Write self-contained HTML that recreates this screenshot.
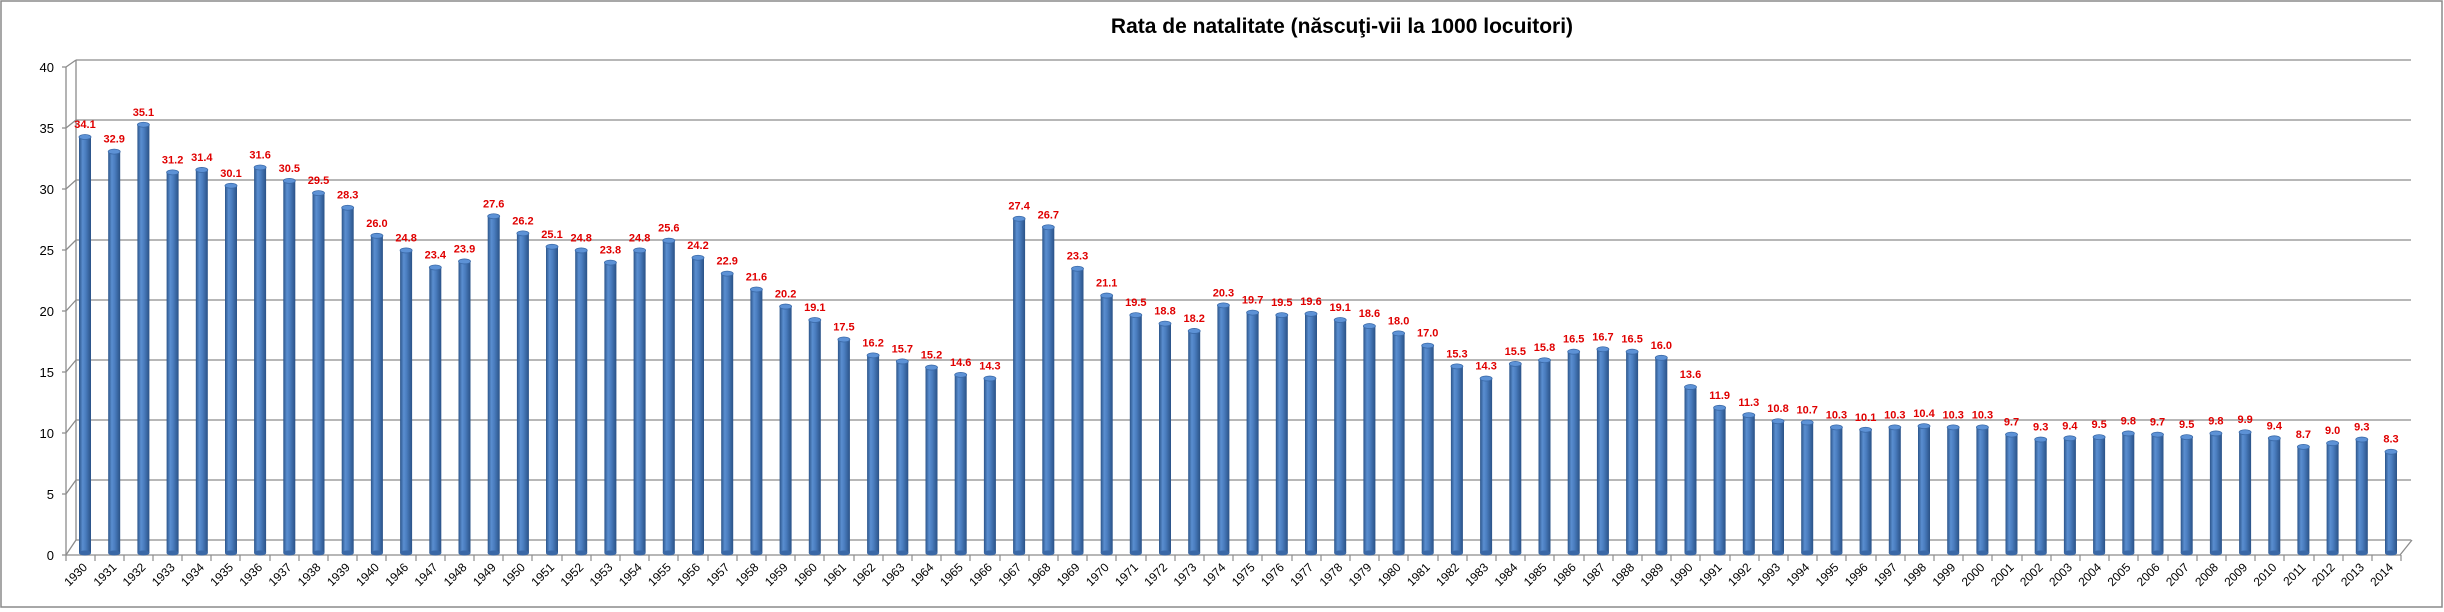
<!DOCTYPE html>
<html><head><meta charset="utf-8"><style>
html,body{margin:0;padding:0;background:#fff}
svg{display:block}
.c{transform:scaleY(calc(var(--v) * 12.2))}
.t{transform:translateY(calc(var(--v) * -12.2px))}
.lb{font:bold 11px "Liberation Sans",sans-serif;fill:#e00000;text-anchor:middle}
.yr{font:12px "Liberation Sans",sans-serif;fill:#000;text-anchor:end}
.ax{font:13px "Liberation Sans",sans-serif;fill:#000;text-anchor:end}
</style></head><body>
<svg width="2444" height="612" viewBox="0 0 2444 612" xmlns="http://www.w3.org/2000/svg">
<defs>
<linearGradient id="g" x1="0" x2="1" y1="0" y2="0">
<stop offset="0" stop-color="#2c558a"/><stop offset="0.3" stop-color="#5a8ed0"/><stop offset="0.55" stop-color="#4a7dbf"/><stop offset="1" stop-color="#2a5287"/>
</linearGradient>
<g id="bar"><rect class="c" x="-6" y="-1" width="12" height="1" fill="url(#g)"/><ellipse cx="0" cy="0" rx="6" ry="2.5" fill="#3a68a6"/></g>
</defs>
<rect x="1" y="1" width="2441" height="606" fill="#fff" stroke="#8a8a8a" stroke-width="1.5"/>
<text x="1342" y="33" style="font:bold 21px 'Liberation Sans',sans-serif;text-anchor:middle">Rata de natalitate (născuţi-vii la 1000 locuitori)</text>
<g stroke="#8c8c8c" stroke-width="1.3" fill="none">
<path d="M76 60H2411M76 120H2411M76 180H2411M76 240H2411M76 300H2411M76 360H2411M76 420H2411M76 480H2411"/>
<path d="M76 60V540M66 67V555M76 540H2411M66 555H2400L2412 540"/>
<path d="M62 67H66L76 60M62 128H66L76 120M62 189H66L76 180M62 250H66L76 240M62 311H66L76 300M62 372H66L76 360M62 433H66L76 420M62 494H66L76 480M62 555H66L76 540"/>
</g>
<g class="ax">
<text x="54" y="72">40</text><text x="54" y="133">35</text><text x="54" y="194">30</text><text x="54" y="255">25</text><text x="54" y="316">20</text><text x="54" y="377">15</text><text x="54" y="438">10</text><text x="54" y="499">5</text><text x="54" y="560">0</text>
</g>
<g stroke="#8c8c8c" stroke-width="1.2">
<path d="M95 555v6M124 555v6M153 555v6M182 555v6M211 555v6M240 555v6M270 555v6M299 555v6M328 555v6M357 555v6M386 555v6M416 555v6M445 555v6M474 555v6M503 555v6M532 555v6M562 555v6M591 555v6M620 555v6M649 555v6M678 555v6M708 555v6M737 555v6M766 555v6M795 555v6M824 555v6M854 555v6M883 555v6M912 555v6M941 555v6M970 555v6M1000 555v6M1029 555v6M1058 555v6M1087 555v6M1116 555v6M1146 555v6M1175 555v6M1204 555v6M1233 555v6M1262 555v6M1292 555v6M1321 555v6M1350 555v6M1379 555v6M1408 555v6M1438 555v6M1467 555v6M1496 555v6M1525 555v6M1554 555v6M1584 555v6M1613 555v6M1642 555v6M1671 555v6M1700 555v6M1730 555v6M1759 555v6M1788 555v6M1817 555v6M1846 555v6M1876 555v6M1905 555v6M1934 555v6M1963 555v6M1992 555v6M2022 555v6M2051 555v6M2080 555v6M2109 555v6M2138 555v6M2168 555v6M2197 555v6M2226 555v6M2255 555v6M2284 555v6M2314 555v6M2343 555v6M2372 555v6M2401 555v6M66 555v6"/>
</g>
<g id="bars">
<g transform="translate(85,553)" style="--v:34.1"><use href="#bar"/><g class="t"><ellipse rx="6" ry="2.5" fill="#5d92d6" stroke="#3b6aa8" stroke-width="0.8"/><text class="lb" y="-9">34.1</text></g><text class="yr" x="3" y="15" transform="rotate(-45 3 15)">1930</text></g>
<g transform="translate(114.2,553)" style="--v:32.9"><use href="#bar"/><g class="t"><ellipse rx="6" ry="2.5" fill="#5d92d6" stroke="#3b6aa8" stroke-width="0.8"/><text class="lb" y="-9">32.9</text></g><text class="yr" x="3" y="15" transform="rotate(-45 3 15)">1931</text></g>
<g transform="translate(143.4,553)" style="--v:35.1"><use href="#bar"/><g class="t"><ellipse rx="6" ry="2.5" fill="#5d92d6" stroke="#3b6aa8" stroke-width="0.8"/><text class="lb" y="-9">35.1</text></g><text class="yr" x="3" y="15" transform="rotate(-45 3 15)">1932</text></g>
<g transform="translate(172.6,553)" style="--v:31.2"><use href="#bar"/><g class="t"><ellipse rx="6" ry="2.5" fill="#5d92d6" stroke="#3b6aa8" stroke-width="0.8"/><text class="lb" y="-9">31.2</text></g><text class="yr" x="3" y="15" transform="rotate(-45 3 15)">1933</text></g>
<g transform="translate(201.8,553)" style="--v:31.4"><use href="#bar"/><g class="t"><ellipse rx="6" ry="2.5" fill="#5d92d6" stroke="#3b6aa8" stroke-width="0.8"/><text class="lb" y="-9">31.4</text></g><text class="yr" x="3" y="15" transform="rotate(-45 3 15)">1934</text></g>
<g transform="translate(231,553)" style="--v:30.1"><use href="#bar"/><g class="t"><ellipse rx="6" ry="2.5" fill="#5d92d6" stroke="#3b6aa8" stroke-width="0.8"/><text class="lb" y="-9">30.1</text></g><text class="yr" x="3" y="15" transform="rotate(-45 3 15)">1935</text></g>
<g transform="translate(260.1,553)" style="--v:31.6"><use href="#bar"/><g class="t"><ellipse rx="6" ry="2.5" fill="#5d92d6" stroke="#3b6aa8" stroke-width="0.8"/><text class="lb" y="-9">31.6</text></g><text class="yr" x="3" y="15" transform="rotate(-45 3 15)">1936</text></g>
<g transform="translate(289.3,553)" style="--v:30.5"><use href="#bar"/><g class="t"><ellipse rx="6" ry="2.5" fill="#5d92d6" stroke="#3b6aa8" stroke-width="0.8"/><text class="lb" y="-9">30.5</text></g><text class="yr" x="3" y="15" transform="rotate(-45 3 15)">1937</text></g>
<g transform="translate(318.5,553)" style="--v:29.5"><use href="#bar"/><g class="t"><ellipse rx="6" ry="2.5" fill="#5d92d6" stroke="#3b6aa8" stroke-width="0.8"/><text class="lb" y="-9">29.5</text></g><text class="yr" x="3" y="15" transform="rotate(-45 3 15)">1938</text></g>
<g transform="translate(347.7,553)" style="--v:28.3"><use href="#bar"/><g class="t"><ellipse rx="6" ry="2.5" fill="#5d92d6" stroke="#3b6aa8" stroke-width="0.8"/><text class="lb" y="-9">28.3</text></g><text class="yr" x="3" y="15" transform="rotate(-45 3 15)">1939</text></g>
<g transform="translate(376.9,553)" style="--v:26.0"><use href="#bar"/><g class="t"><ellipse rx="6" ry="2.5" fill="#5d92d6" stroke="#3b6aa8" stroke-width="0.8"/><text class="lb" y="-9">26.0</text></g><text class="yr" x="3" y="15" transform="rotate(-45 3 15)">1940</text></g>
<g transform="translate(406.1,553)" style="--v:24.8"><use href="#bar"/><g class="t"><ellipse rx="6" ry="2.5" fill="#5d92d6" stroke="#3b6aa8" stroke-width="0.8"/><text class="lb" y="-9">24.8</text></g><text class="yr" x="3" y="15" transform="rotate(-45 3 15)">1946</text></g>
<g transform="translate(435.3,553)" style="--v:23.4"><use href="#bar"/><g class="t"><ellipse rx="6" ry="2.5" fill="#5d92d6" stroke="#3b6aa8" stroke-width="0.8"/><text class="lb" y="-9">23.4</text></g><text class="yr" x="3" y="15" transform="rotate(-45 3 15)">1947</text></g>
<g transform="translate(464.5,553)" style="--v:23.9"><use href="#bar"/><g class="t"><ellipse rx="6" ry="2.5" fill="#5d92d6" stroke="#3b6aa8" stroke-width="0.8"/><text class="lb" y="-9">23.9</text></g><text class="yr" x="3" y="15" transform="rotate(-45 3 15)">1948</text></g>
<g transform="translate(493.7,553)" style="--v:27.6"><use href="#bar"/><g class="t"><ellipse rx="6" ry="2.5" fill="#5d92d6" stroke="#3b6aa8" stroke-width="0.8"/><text class="lb" y="-9">27.6</text></g><text class="yr" x="3" y="15" transform="rotate(-45 3 15)">1949</text></g>
<g transform="translate(522.9,553)" style="--v:26.2"><use href="#bar"/><g class="t"><ellipse rx="6" ry="2.5" fill="#5d92d6" stroke="#3b6aa8" stroke-width="0.8"/><text class="lb" y="-9">26.2</text></g><text class="yr" x="3" y="15" transform="rotate(-45 3 15)">1950</text></g>
<g transform="translate(552,553)" style="--v:25.1"><use href="#bar"/><g class="t"><ellipse rx="6" ry="2.5" fill="#5d92d6" stroke="#3b6aa8" stroke-width="0.8"/><text class="lb" y="-9">25.1</text></g><text class="yr" x="3" y="15" transform="rotate(-45 3 15)">1951</text></g>
<g transform="translate(581.2,553)" style="--v:24.8"><use href="#bar"/><g class="t"><ellipse rx="6" ry="2.5" fill="#5d92d6" stroke="#3b6aa8" stroke-width="0.8"/><text class="lb" y="-9">24.8</text></g><text class="yr" x="3" y="15" transform="rotate(-45 3 15)">1952</text></g>
<g transform="translate(610.4,553)" style="--v:23.8"><use href="#bar"/><g class="t"><ellipse rx="6" ry="2.5" fill="#5d92d6" stroke="#3b6aa8" stroke-width="0.8"/><text class="lb" y="-9">23.8</text></g><text class="yr" x="3" y="15" transform="rotate(-45 3 15)">1953</text></g>
<g transform="translate(639.6,553)" style="--v:24.8"><use href="#bar"/><g class="t"><ellipse rx="6" ry="2.5" fill="#5d92d6" stroke="#3b6aa8" stroke-width="0.8"/><text class="lb" y="-9">24.8</text></g><text class="yr" x="3" y="15" transform="rotate(-45 3 15)">1954</text></g>
<g transform="translate(668.8,553)" style="--v:25.6"><use href="#bar"/><g class="t"><ellipse rx="6" ry="2.5" fill="#5d92d6" stroke="#3b6aa8" stroke-width="0.8"/><text class="lb" y="-9">25.6</text></g><text class="yr" x="3" y="15" transform="rotate(-45 3 15)">1955</text></g>
<g transform="translate(698,553)" style="--v:24.2"><use href="#bar"/><g class="t"><ellipse rx="6" ry="2.5" fill="#5d92d6" stroke="#3b6aa8" stroke-width="0.8"/><text class="lb" y="-9">24.2</text></g><text class="yr" x="3" y="15" transform="rotate(-45 3 15)">1956</text></g>
<g transform="translate(727.2,553)" style="--v:22.9"><use href="#bar"/><g class="t"><ellipse rx="6" ry="2.5" fill="#5d92d6" stroke="#3b6aa8" stroke-width="0.8"/><text class="lb" y="-9">22.9</text></g><text class="yr" x="3" y="15" transform="rotate(-45 3 15)">1957</text></g>
<g transform="translate(756.4,553)" style="--v:21.6"><use href="#bar"/><g class="t"><ellipse rx="6" ry="2.5" fill="#5d92d6" stroke="#3b6aa8" stroke-width="0.8"/><text class="lb" y="-9">21.6</text></g><text class="yr" x="3" y="15" transform="rotate(-45 3 15)">1958</text></g>
<g transform="translate(785.6,553)" style="--v:20.2"><use href="#bar"/><g class="t"><ellipse rx="6" ry="2.5" fill="#5d92d6" stroke="#3b6aa8" stroke-width="0.8"/><text class="lb" y="-9">20.2</text></g><text class="yr" x="3" y="15" transform="rotate(-45 3 15)">1959</text></g>
<g transform="translate(814.8,553)" style="--v:19.1"><use href="#bar"/><g class="t"><ellipse rx="6" ry="2.5" fill="#5d92d6" stroke="#3b6aa8" stroke-width="0.8"/><text class="lb" y="-9">19.1</text></g><text class="yr" x="3" y="15" transform="rotate(-45 3 15)">1960</text></g>
<g transform="translate(843.9,553)" style="--v:17.5"><use href="#bar"/><g class="t"><ellipse rx="6" ry="2.5" fill="#5d92d6" stroke="#3b6aa8" stroke-width="0.8"/><text class="lb" y="-9">17.5</text></g><text class="yr" x="3" y="15" transform="rotate(-45 3 15)">1961</text></g>
<g transform="translate(873.1,553)" style="--v:16.2"><use href="#bar"/><g class="t"><ellipse rx="6" ry="2.5" fill="#5d92d6" stroke="#3b6aa8" stroke-width="0.8"/><text class="lb" y="-9">16.2</text></g><text class="yr" x="3" y="15" transform="rotate(-45 3 15)">1962</text></g>
<g transform="translate(902.3,553)" style="--v:15.7"><use href="#bar"/><g class="t"><ellipse rx="6" ry="2.5" fill="#5d92d6" stroke="#3b6aa8" stroke-width="0.8"/><text class="lb" y="-9">15.7</text></g><text class="yr" x="3" y="15" transform="rotate(-45 3 15)">1963</text></g>
<g transform="translate(931.5,553)" style="--v:15.2"><use href="#bar"/><g class="t"><ellipse rx="6" ry="2.5" fill="#5d92d6" stroke="#3b6aa8" stroke-width="0.8"/><text class="lb" y="-9">15.2</text></g><text class="yr" x="3" y="15" transform="rotate(-45 3 15)">1964</text></g>
<g transform="translate(960.7,553)" style="--v:14.6"><use href="#bar"/><g class="t"><ellipse rx="6" ry="2.5" fill="#5d92d6" stroke="#3b6aa8" stroke-width="0.8"/><text class="lb" y="-9">14.6</text></g><text class="yr" x="3" y="15" transform="rotate(-45 3 15)">1965</text></g>
<g transform="translate(989.9,553)" style="--v:14.3"><use href="#bar"/><g class="t"><ellipse rx="6" ry="2.5" fill="#5d92d6" stroke="#3b6aa8" stroke-width="0.8"/><text class="lb" y="-9">14.3</text></g><text class="yr" x="3" y="15" transform="rotate(-45 3 15)">1966</text></g>
<g transform="translate(1019.1,553)" style="--v:27.4"><use href="#bar"/><g class="t"><ellipse rx="6" ry="2.5" fill="#5d92d6" stroke="#3b6aa8" stroke-width="0.8"/><text class="lb" y="-9">27.4</text></g><text class="yr" x="3" y="15" transform="rotate(-45 3 15)">1967</text></g>
<g transform="translate(1048.3,553)" style="--v:26.7"><use href="#bar"/><g class="t"><ellipse rx="6" ry="2.5" fill="#5d92d6" stroke="#3b6aa8" stroke-width="0.8"/><text class="lb" y="-9">26.7</text></g><text class="yr" x="3" y="15" transform="rotate(-45 3 15)">1968</text></g>
<g transform="translate(1077.5,553)" style="--v:23.3"><use href="#bar"/><g class="t"><ellipse rx="6" ry="2.5" fill="#5d92d6" stroke="#3b6aa8" stroke-width="0.8"/><text class="lb" y="-9">23.3</text></g><text class="yr" x="3" y="15" transform="rotate(-45 3 15)">1969</text></g>
<g transform="translate(1106.7,553)" style="--v:21.1"><use href="#bar"/><g class="t"><ellipse rx="6" ry="2.5" fill="#5d92d6" stroke="#3b6aa8" stroke-width="0.8"/><text class="lb" y="-9">21.1</text></g><text class="yr" x="3" y="15" transform="rotate(-45 3 15)">1970</text></g>
<g transform="translate(1135.8,553)" style="--v:19.5"><use href="#bar"/><g class="t"><ellipse rx="6" ry="2.5" fill="#5d92d6" stroke="#3b6aa8" stroke-width="0.8"/><text class="lb" y="-9">19.5</text></g><text class="yr" x="3" y="15" transform="rotate(-45 3 15)">1971</text></g>
<g transform="translate(1165,553)" style="--v:18.8"><use href="#bar"/><g class="t"><ellipse rx="6" ry="2.5" fill="#5d92d6" stroke="#3b6aa8" stroke-width="0.8"/><text class="lb" y="-9">18.8</text></g><text class="yr" x="3" y="15" transform="rotate(-45 3 15)">1972</text></g>
<g transform="translate(1194.2,553)" style="--v:18.2"><use href="#bar"/><g class="t"><ellipse rx="6" ry="2.5" fill="#5d92d6" stroke="#3b6aa8" stroke-width="0.8"/><text class="lb" y="-9">18.2</text></g><text class="yr" x="3" y="15" transform="rotate(-45 3 15)">1973</text></g>
<g transform="translate(1223.4,553)" style="--v:20.3"><use href="#bar"/><g class="t"><ellipse rx="6" ry="2.5" fill="#5d92d6" stroke="#3b6aa8" stroke-width="0.8"/><text class="lb" y="-9">20.3</text></g><text class="yr" x="3" y="15" transform="rotate(-45 3 15)">1974</text></g>
<g transform="translate(1252.6,553)" style="--v:19.7"><use href="#bar"/><g class="t"><ellipse rx="6" ry="2.5" fill="#5d92d6" stroke="#3b6aa8" stroke-width="0.8"/><text class="lb" y="-9">19.7</text></g><text class="yr" x="3" y="15" transform="rotate(-45 3 15)">1975</text></g>
<g transform="translate(1281.8,553)" style="--v:19.5"><use href="#bar"/><g class="t"><ellipse rx="6" ry="2.5" fill="#5d92d6" stroke="#3b6aa8" stroke-width="0.8"/><text class="lb" y="-9">19.5</text></g><text class="yr" x="3" y="15" transform="rotate(-45 3 15)">1976</text></g>
<g transform="translate(1311,553)" style="--v:19.6"><use href="#bar"/><g class="t"><ellipse rx="6" ry="2.5" fill="#5d92d6" stroke="#3b6aa8" stroke-width="0.8"/><text class="lb" y="-9">19.6</text></g><text class="yr" x="3" y="15" transform="rotate(-45 3 15)">1977</text></g>
<g transform="translate(1340.2,553)" style="--v:19.1"><use href="#bar"/><g class="t"><ellipse rx="6" ry="2.5" fill="#5d92d6" stroke="#3b6aa8" stroke-width="0.8"/><text class="lb" y="-9">19.1</text></g><text class="yr" x="3" y="15" transform="rotate(-45 3 15)">1978</text></g>
<g transform="translate(1369.4,553)" style="--v:18.6"><use href="#bar"/><g class="t"><ellipse rx="6" ry="2.5" fill="#5d92d6" stroke="#3b6aa8" stroke-width="0.8"/><text class="lb" y="-9">18.6</text></g><text class="yr" x="3" y="15" transform="rotate(-45 3 15)">1979</text></g>
<g transform="translate(1398.6,553)" style="--v:18.0"><use href="#bar"/><g class="t"><ellipse rx="6" ry="2.5" fill="#5d92d6" stroke="#3b6aa8" stroke-width="0.8"/><text class="lb" y="-9">18.0</text></g><text class="yr" x="3" y="15" transform="rotate(-45 3 15)">1980</text></g>
<g transform="translate(1427.7,553)" style="--v:17.0"><use href="#bar"/><g class="t"><ellipse rx="6" ry="2.5" fill="#5d92d6" stroke="#3b6aa8" stroke-width="0.8"/><text class="lb" y="-9">17.0</text></g><text class="yr" x="3" y="15" transform="rotate(-45 3 15)">1981</text></g>
<g transform="translate(1456.9,553)" style="--v:15.3"><use href="#bar"/><g class="t"><ellipse rx="6" ry="2.5" fill="#5d92d6" stroke="#3b6aa8" stroke-width="0.8"/><text class="lb" y="-9">15.3</text></g><text class="yr" x="3" y="15" transform="rotate(-45 3 15)">1982</text></g>
<g transform="translate(1486.1,553)" style="--v:14.3"><use href="#bar"/><g class="t"><ellipse rx="6" ry="2.5" fill="#5d92d6" stroke="#3b6aa8" stroke-width="0.8"/><text class="lb" y="-9">14.3</text></g><text class="yr" x="3" y="15" transform="rotate(-45 3 15)">1983</text></g>
<g transform="translate(1515.3,553)" style="--v:15.5"><use href="#bar"/><g class="t"><ellipse rx="6" ry="2.5" fill="#5d92d6" stroke="#3b6aa8" stroke-width="0.8"/><text class="lb" y="-9">15.5</text></g><text class="yr" x="3" y="15" transform="rotate(-45 3 15)">1984</text></g>
<g transform="translate(1544.5,553)" style="--v:15.8"><use href="#bar"/><g class="t"><ellipse rx="6" ry="2.5" fill="#5d92d6" stroke="#3b6aa8" stroke-width="0.8"/><text class="lb" y="-9">15.8</text></g><text class="yr" x="3" y="15" transform="rotate(-45 3 15)">1985</text></g>
<g transform="translate(1573.7,553)" style="--v:16.5"><use href="#bar"/><g class="t"><ellipse rx="6" ry="2.5" fill="#5d92d6" stroke="#3b6aa8" stroke-width="0.8"/><text class="lb" y="-9">16.5</text></g><text class="yr" x="3" y="15" transform="rotate(-45 3 15)">1986</text></g>
<g transform="translate(1602.9,553)" style="--v:16.7"><use href="#bar"/><g class="t"><ellipse rx="6" ry="2.5" fill="#5d92d6" stroke="#3b6aa8" stroke-width="0.8"/><text class="lb" y="-9">16.7</text></g><text class="yr" x="3" y="15" transform="rotate(-45 3 15)">1987</text></g>
<g transform="translate(1632.1,553)" style="--v:16.5"><use href="#bar"/><g class="t"><ellipse rx="6" ry="2.5" fill="#5d92d6" stroke="#3b6aa8" stroke-width="0.8"/><text class="lb" y="-9">16.5</text></g><text class="yr" x="3" y="15" transform="rotate(-45 3 15)">1988</text></g>
<g transform="translate(1661.3,553)" style="--v:16.0"><use href="#bar"/><g class="t"><ellipse rx="6" ry="2.5" fill="#5d92d6" stroke="#3b6aa8" stroke-width="0.8"/><text class="lb" y="-9">16.0</text></g><text class="yr" x="3" y="15" transform="rotate(-45 3 15)">1989</text></g>
<g transform="translate(1690.5,553)" style="--v:13.6"><use href="#bar"/><g class="t"><ellipse rx="6" ry="2.5" fill="#5d92d6" stroke="#3b6aa8" stroke-width="0.8"/><text class="lb" y="-9">13.6</text></g><text class="yr" x="3" y="15" transform="rotate(-45 3 15)">1990</text></g>
<g transform="translate(1719.6,553)" style="--v:11.9"><use href="#bar"/><g class="t"><ellipse rx="6" ry="2.5" fill="#5d92d6" stroke="#3b6aa8" stroke-width="0.8"/><text class="lb" y="-9">11.9</text></g><text class="yr" x="3" y="15" transform="rotate(-45 3 15)">1991</text></g>
<g transform="translate(1748.8,553)" style="--v:11.3"><use href="#bar"/><g class="t"><ellipse rx="6" ry="2.5" fill="#5d92d6" stroke="#3b6aa8" stroke-width="0.8"/><text class="lb" y="-9">11.3</text></g><text class="yr" x="3" y="15" transform="rotate(-45 3 15)">1992</text></g>
<g transform="translate(1778,553)" style="--v:10.8"><use href="#bar"/><g class="t"><ellipse rx="6" ry="2.5" fill="#5d92d6" stroke="#3b6aa8" stroke-width="0.8"/><text class="lb" y="-9">10.8</text></g><text class="yr" x="3" y="15" transform="rotate(-45 3 15)">1993</text></g>
<g transform="translate(1807.2,553)" style="--v:10.7"><use href="#bar"/><g class="t"><ellipse rx="6" ry="2.5" fill="#5d92d6" stroke="#3b6aa8" stroke-width="0.8"/><text class="lb" y="-9">10.7</text></g><text class="yr" x="3" y="15" transform="rotate(-45 3 15)">1994</text></g>
<g transform="translate(1836.4,553)" style="--v:10.3"><use href="#bar"/><g class="t"><ellipse rx="6" ry="2.5" fill="#5d92d6" stroke="#3b6aa8" stroke-width="0.8"/><text class="lb" y="-9">10.3</text></g><text class="yr" x="3" y="15" transform="rotate(-45 3 15)">1995</text></g>
<g transform="translate(1865.6,553)" style="--v:10.1"><use href="#bar"/><g class="t"><ellipse rx="6" ry="2.5" fill="#5d92d6" stroke="#3b6aa8" stroke-width="0.8"/><text class="lb" y="-9">10.1</text></g><text class="yr" x="3" y="15" transform="rotate(-45 3 15)">1996</text></g>
<g transform="translate(1894.8,553)" style="--v:10.3"><use href="#bar"/><g class="t"><ellipse rx="6" ry="2.5" fill="#5d92d6" stroke="#3b6aa8" stroke-width="0.8"/><text class="lb" y="-9">10.3</text></g><text class="yr" x="3" y="15" transform="rotate(-45 3 15)">1997</text></g>
<g transform="translate(1924,553)" style="--v:10.4"><use href="#bar"/><g class="t"><ellipse rx="6" ry="2.5" fill="#5d92d6" stroke="#3b6aa8" stroke-width="0.8"/><text class="lb" y="-9">10.4</text></g><text class="yr" x="3" y="15" transform="rotate(-45 3 15)">1998</text></g>
<g transform="translate(1953.2,553)" style="--v:10.3"><use href="#bar"/><g class="t"><ellipse rx="6" ry="2.5" fill="#5d92d6" stroke="#3b6aa8" stroke-width="0.8"/><text class="lb" y="-9">10.3</text></g><text class="yr" x="3" y="15" transform="rotate(-45 3 15)">1999</text></g>
<g transform="translate(1982.4,553)" style="--v:10.3"><use href="#bar"/><g class="t"><ellipse rx="6" ry="2.5" fill="#5d92d6" stroke="#3b6aa8" stroke-width="0.8"/><text class="lb" y="-9">10.3</text></g><text class="yr" x="3" y="15" transform="rotate(-45 3 15)">2000</text></g>
<g transform="translate(2011.5,553)" style="--v:9.7"><use href="#bar"/><g class="t"><ellipse rx="6" ry="2.5" fill="#5d92d6" stroke="#3b6aa8" stroke-width="0.8"/><text class="lb" y="-9">9.7</text></g><text class="yr" x="3" y="15" transform="rotate(-45 3 15)">2001</text></g>
<g transform="translate(2040.7,553)" style="--v:9.3"><use href="#bar"/><g class="t"><ellipse rx="6" ry="2.5" fill="#5d92d6" stroke="#3b6aa8" stroke-width="0.8"/><text class="lb" y="-9">9.3</text></g><text class="yr" x="3" y="15" transform="rotate(-45 3 15)">2002</text></g>
<g transform="translate(2069.9,553)" style="--v:9.4"><use href="#bar"/><g class="t"><ellipse rx="6" ry="2.5" fill="#5d92d6" stroke="#3b6aa8" stroke-width="0.8"/><text class="lb" y="-9">9.4</text></g><text class="yr" x="3" y="15" transform="rotate(-45 3 15)">2003</text></g>
<g transform="translate(2099.1,553)" style="--v:9.5"><use href="#bar"/><g class="t"><ellipse rx="6" ry="2.5" fill="#5d92d6" stroke="#3b6aa8" stroke-width="0.8"/><text class="lb" y="-9">9.5</text></g><text class="yr" x="3" y="15" transform="rotate(-45 3 15)">2004</text></g>
<g transform="translate(2128.3,553)" style="--v:9.8"><use href="#bar"/><g class="t"><ellipse rx="6" ry="2.5" fill="#5d92d6" stroke="#3b6aa8" stroke-width="0.8"/><text class="lb" y="-9">9.8</text></g><text class="yr" x="3" y="15" transform="rotate(-45 3 15)">2005</text></g>
<g transform="translate(2157.5,553)" style="--v:9.7"><use href="#bar"/><g class="t"><ellipse rx="6" ry="2.5" fill="#5d92d6" stroke="#3b6aa8" stroke-width="0.8"/><text class="lb" y="-9">9.7</text></g><text class="yr" x="3" y="15" transform="rotate(-45 3 15)">2006</text></g>
<g transform="translate(2186.7,553)" style="--v:9.5"><use href="#bar"/><g class="t"><ellipse rx="6" ry="2.5" fill="#5d92d6" stroke="#3b6aa8" stroke-width="0.8"/><text class="lb" y="-9">9.5</text></g><text class="yr" x="3" y="15" transform="rotate(-45 3 15)">2007</text></g>
<g transform="translate(2215.9,553)" style="--v:9.8"><use href="#bar"/><g class="t"><ellipse rx="6" ry="2.5" fill="#5d92d6" stroke="#3b6aa8" stroke-width="0.8"/><text class="lb" y="-9">9.8</text></g><text class="yr" x="3" y="15" transform="rotate(-45 3 15)">2008</text></g>
<g transform="translate(2245.1,553)" style="--v:9.9"><use href="#bar"/><g class="t"><ellipse rx="6" ry="2.5" fill="#5d92d6" stroke="#3b6aa8" stroke-width="0.8"/><text class="lb" y="-9">9.9</text></g><text class="yr" x="3" y="15" transform="rotate(-45 3 15)">2009</text></g>
<g transform="translate(2274.3,553)" style="--v:9.4"><use href="#bar"/><g class="t"><ellipse rx="6" ry="2.5" fill="#5d92d6" stroke="#3b6aa8" stroke-width="0.8"/><text class="lb" y="-9">9.4</text></g><text class="yr" x="3" y="15" transform="rotate(-45 3 15)">2010</text></g>
<g transform="translate(2303.4,553)" style="--v:8.7"><use href="#bar"/><g class="t"><ellipse rx="6" ry="2.5" fill="#5d92d6" stroke="#3b6aa8" stroke-width="0.8"/><text class="lb" y="-9">8.7</text></g><text class="yr" x="3" y="15" transform="rotate(-45 3 15)">2011</text></g>
<g transform="translate(2332.6,553)" style="--v:9.0"><use href="#bar"/><g class="t"><ellipse rx="6" ry="2.5" fill="#5d92d6" stroke="#3b6aa8" stroke-width="0.8"/><text class="lb" y="-9">9.0</text></g><text class="yr" x="3" y="15" transform="rotate(-45 3 15)">2012</text></g>
<g transform="translate(2361.8,553)" style="--v:9.3"><use href="#bar"/><g class="t"><ellipse rx="6" ry="2.5" fill="#5d92d6" stroke="#3b6aa8" stroke-width="0.8"/><text class="lb" y="-9">9.3</text></g><text class="yr" x="3" y="15" transform="rotate(-45 3 15)">2013</text></g>
<g transform="translate(2391,553)" style="--v:8.3"><use href="#bar"/><g class="t"><ellipse rx="6" ry="2.5" fill="#5d92d6" stroke="#3b6aa8" stroke-width="0.8"/><text class="lb" y="-9">8.3</text></g><text class="yr" x="3" y="15" transform="rotate(-45 3 15)">2014</text></g>
</g>
</svg>
</body></html>
